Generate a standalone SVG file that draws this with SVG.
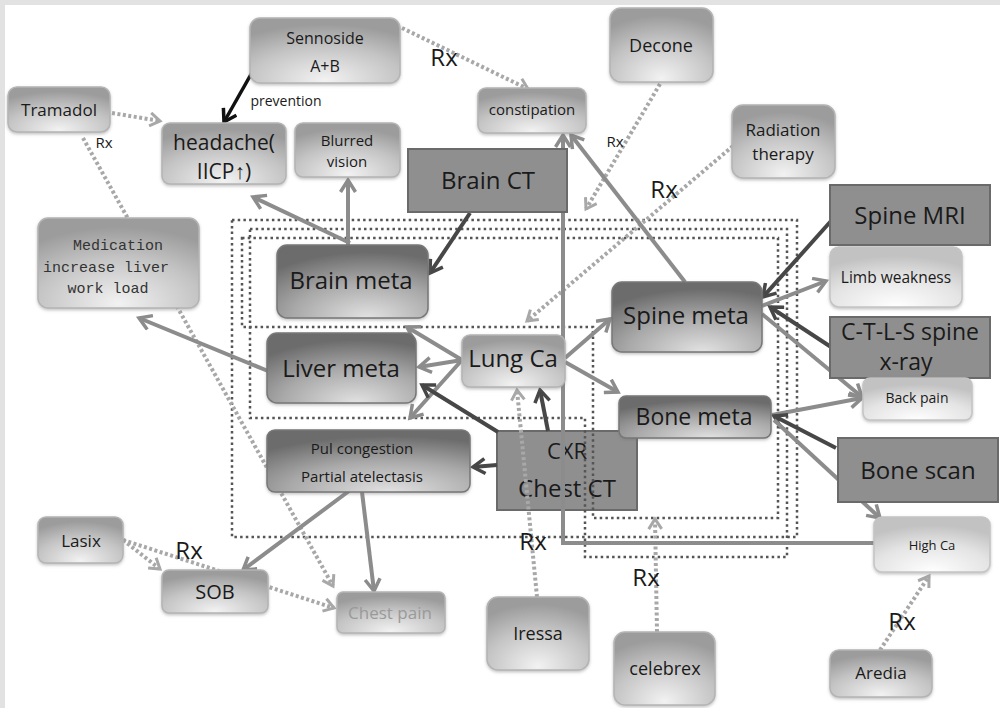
<svg xmlns="http://www.w3.org/2000/svg" width="1000" height="708" viewBox="0 0 1000 708">
<style>
text{font-family:"Open Sans","Liberation Sans",sans-serif;fill:#1a1a1a;text-anchor:middle}
.mono{font-family:"Liberation Mono","DejaVu Sans Mono",monospace;fill:#333}
.lt{fill:url(#gLight);stroke:#b4b4b4;stroke-width:1.5;filter:url(#sh)}
.lt2{fill:url(#gLight2);stroke:#c4c4c4;stroke-width:1.5;filter:url(#sh)}
.mt{fill:url(#gMeta);stroke:#777;stroke-width:1.5;filter:url(#sh)}
.ts{fill:#8f8f8f;stroke:#6a6a6a;stroke-width:2}
.reg{fill:none;stroke:#555;stroke-width:2.5;stroke-dasharray:2.5 3.2}
.dot{fill:none;stroke:#a8a8a8;stroke-width:4;stroke-dasharray:3 2.5;marker-end:url(#aDot)}
.gr{fill:none;stroke:#8c8c8c;stroke-width:4;marker-end:url(#aGray)}
.dk{fill:none;stroke:#474747;stroke-width:4;marker-end:url(#aDark)}
.bk{fill:none;stroke:#111;stroke-width:3.5;marker-end:url(#aBlack)}
.rx{font-size:24px}
</style>
<defs>
<radialGradient id="gLight" cx="50%" cy="95%" r="85%">
<stop offset="0" stop-color="#f2f2f2"/><stop offset="0.6" stop-color="#c4c4c4"/><stop offset="1" stop-color="#9c9c9c"/>
</radialGradient>
<radialGradient id="gLight2" cx="50%" cy="100%" r="85%">
<stop offset="0" stop-color="#ffffff"/><stop offset="0.6" stop-color="#e4e4e4"/><stop offset="1" stop-color="#c2c2c2"/>
</radialGradient>
<radialGradient id="gMeta" cx="60%" cy="100%" r="90%">
<stop offset="0" stop-color="#e2e2e2"/><stop offset="0.55" stop-color="#a9a9a9"/><stop offset="1" stop-color="#6c6c6c"/>
</radialGradient>
<filter id="sh" x="-10%" y="-10%" width="120%" height="130%">
<feDropShadow dx="0" dy="1.5" stdDeviation="1.5" flood-color="#777" flood-opacity="0.45"/>
</filter>
<marker id="aDot" markerUnits="userSpaceOnUse" markerWidth="16" markerHeight="16" refX="12" refY="8" orient="auto"><path d="M2,1.5 L12,8 L2,14.5" fill="none" stroke="#a8a8a8" stroke-width="3"/></marker>
<marker id="aGray" markerUnits="userSpaceOnUse" markerWidth="18" markerHeight="18" refX="14" refY="9" orient="auto"><path d="M2,1.5 L14,9 L2,16.5" fill="none" stroke="#8c8c8c" stroke-width="3.5"/></marker>
<marker id="aDark" markerUnits="userSpaceOnUse" markerWidth="18" markerHeight="18" refX="14" refY="9" orient="auto"><path d="M2,1.5 L14,9 L2,16.5" fill="none" stroke="#474747" stroke-width="3.5"/></marker>
<marker id="aBlack" markerUnits="userSpaceOnUse" markerWidth="18" markerHeight="18" refX="14" refY="9" orient="auto"><path d="M2,1.5 L14,9 L2,16.5" fill="none" stroke="#111" stroke-width="3.5"/></marker>
</defs>
<rect x="0" y="0" width="1000" height="708" fill="#e2e2e2"/>
<rect x="5" y="5" width="995" height="703" fill="#ffffff"/>

<g id="node-cxr"><rect class="ts" x="497" y="431" width="140" height="79"/><text x="567" y="459" font-size="22">CXR</text><text x="567" y="497" font-size="24">Chest CT</text></g>

<g id="regions">
<rect class="reg" x="232" y="220" width="565" height="317"/>
<path class="reg" d="M250,229 H787 V557 H585 V418 H250 Z"/>
<path class="reg" d="M242,238 H778 V518 H593 V327 H242 Z"/>
</g>

<g id="connectors">
<path class="bk" d="M258,62 L224,122"/>
<path class="dot" d="M402,28 L528,89"/>
<path class="dot" d="M112,113 L160,121"/>
<path class="dot" d="M83,138 L333,586"/>
<path class="dot" d="M660,84 L586,209"/>
<path class="dot" d="M733,146 L527,321"/>
<path class="dot" d="M537,597 L517,390"/>
<path class="dot" d="M123,540 L160,569"/>
<path class="dot" d="M123,540 L334,608"/>
<path class="dot" d="M657,632 L655,519"/>
<path class="dot" d="M880,650 L929,576"/>
<path class="dk" d="M470,213 L430,273"/>
<path class="gr" d="M350,243 L253,197"/>
<path class="gr" d="M348,245 L348,180"/>
<path class="gr" d="M268,371 L139,318"/>
<path class="gr" d="M462,360 L407,327"/>
<path class="gr" d="M462,360 L419,367"/>
<path class="gr" d="M462,360 L410,418"/>
<path class="dk" d="M498,432 L422,385"/>
<path class="dk" d="M548,431 L540,390"/>
<path class="gr" d="M565,358 L610,319"/>
<path class="gr" d="M565,362 L618,392"/>
<path class="dk" d="M497,465 L473,467"/>
<path class="gr" d="M349,491 L243,570"/>
<path class="gr" d="M362,492 L374,591"/>
<path class="gr" d="M685,282 L571,135"/>
<path class="gr" d="M874,543 H563 V135"/>
<path class="dk" d="M831,221 L763,297"/>
<path class="gr" d="M762,306 L826,281"/>
<path class="dk" d="M831,347 L770,307"/>
<path class="gr" d="M762,314 L862,397"/>
<path class="gr" d="M772,415 L862,398"/>
<path class="dk" d="M836,448 L774,416"/>
<path class="gr" d="M774,420 L880,518"/>
</g>

<g id="node-sennoside"><rect class="lt" x="250" y="18" width="150" height="65" rx="10"/><text x="325" y="44" font-size="16">Sennoside</text><text x="325" y="72" font-size="16">A+B</text></g>
<g id="label-prevention"><text x="286" y="106" font-size="14">prevention</text></g>
<g id="node-tramadol"><rect class="lt" x="8" y="87" width="102" height="45" rx="9"/><text x="59" y="116" font-size="17">Tramadol</text></g>
<g id="label-rx1"><text x="104" y="148" font-size="15">Rx</text></g>
<g id="node-headache"><rect class="lt" x="162" y="123" width="124" height="61" rx="8"/><text x="224" y="150" font-size="21">headache(</text><text x="224" y="179" font-size="21">IICP↑)</text></g>
<g id="node-blurred"><rect class="lt" x="295" y="123" width="105" height="54" rx="8"/><text x="347" y="146" font-size="15">Blurred</text><text x="347" y="167" font-size="15">vision</text></g>
<g id="label-rx2"><text class="rx" x="444" y="66">Rx</text></g>
<g id="node-constipation"><rect class="lt" x="478" y="88" width="108" height="45" rx="8"/><text x="532" y="115" font-size="15">constipation</text></g>
<g id="node-decone"><rect class="lt" x="610" y="8" width="103" height="74" rx="11"/><text x="661" y="52" font-size="18">Decone</text></g>
<g id="label-rx3"><text x="615" y="147" font-size="15">Rx</text></g>
<g id="node-radiation"><rect class="lt" x="732" y="105" width="103" height="73" rx="11"/><text x="783" y="136" font-size="17">Radiation</text><text x="783" y="160" font-size="17">therapy</text></g>
<g id="label-rx4"><text class="rx" x="664" y="198">Rx</text></g>
<g id="node-braint"><rect class="ts" x="408" y="149" width="159" height="63"/><text x="488" y="189" font-size="24">Brain CT</text></g>
<g id="node-medication"><rect class="lt" x="38" y="218" width="161" height="90" rx="10"/><text class="mono" x="118" y="250" font-size="15">Medication</text><text class="mono" x="106" y="272" font-size="15">increase liver</text><text class="mono" x="108" y="293" font-size="15">work load</text></g>
<g id="node-brainmeta"><rect class="mt" x="277" y="245" width="151" height="73" rx="10"/><text x="351" y="289" font-size="24">Brain meta</text></g>
<g id="node-livermeta"><rect class="mt" x="267" y="333" width="149" height="70" rx="10"/><text x="341" y="377" font-size="24">Liver meta</text></g>
<g id="node-lungca"><rect class="lt" x="462" y="335" width="103" height="52" rx="8"/><text x="513" y="367" font-size="24">Lung Ca</text></g>
<g id="node-spinemeta"><rect class="mt" x="612" y="282" width="150" height="70" rx="10"/><text x="686" y="324" font-size="24">Spine meta</text></g>
<g id="node-bonemeta"><rect class="mt" x="619" y="396" width="152" height="42" rx="7"/><text x="694" y="425" font-size="23">Bone meta</text></g>
<g id="node-pul"><rect class="mt" x="267" y="430" width="203" height="62" rx="8"/><text x="362" y="454" font-size="15">Pul congestion</text><text x="362" y="482" font-size="15">Partial atelectasis</text></g>
<g id="node-spinemri"><rect class="ts" x="830" y="185" width="160" height="60"/><text x="910" y="224" font-size="24">Spine MRI</text></g>
<g id="node-limb"><rect class="lt2" x="830" y="247" width="132" height="60" rx="9"/><text x="896" y="283" font-size="15.5">Limb weakness</text></g>
<g id="node-ctls"><rect class="ts" x="830" y="317" width="160" height="61"/><text x="910" y="340" font-size="23">C-T-L-S spine</text><text x="906" y="370" font-size="23">x-ray</text></g>
<g id="node-backpain"><rect class="lt2" x="863" y="378" width="109" height="42" rx="7"/><text x="917" y="403" font-size="14">Back pain</text></g>
<g id="node-bonescan"><rect class="ts" x="838" y="438" width="160" height="64"/><text x="918" y="479" font-size="24">Bone scan</text></g>
<g id="node-highca"><rect class="lt2" x="874" y="517" width="116" height="55" rx="8"/><text x="932" y="550" font-size="13">High Ca</text></g>
<g id="label-rx5"><text class="rx" x="902" y="630">Rx</text></g>
<g id="node-aredia"><rect class="lt" x="830" y="650" width="102" height="47" rx="9"/><text x="881" y="679" font-size="17">Aredia</text></g>
<g id="node-celebrex"><rect class="lt" x="614" y="632" width="101" height="73" rx="11"/><text x="665" y="675" font-size="18">celebrex</text></g>
<g id="label-rx6"><text class="rx" x="646" y="586">Rx</text></g>
<g id="node-iressa"><rect class="lt" x="487" y="597" width="102" height="73" rx="11"/><text x="538" y="640" font-size="18">Iressa</text></g>
<g id="label-rx7"><text class="rx" x="533" y="550">Rx</text></g>
<g id="node-chestpain"><rect class="lt" x="337" y="592" width="108" height="41" rx="6"/><text x="390" y="619" font-size="17" style="fill:#9a9a9a">Chest pain</text></g>
<g id="node-sob"><rect class="lt" x="162" y="570" width="106" height="43" rx="7"/><text x="215" y="599" font-size="20">SOB</text></g>
<g id="label-rx8"><text class="rx" x="189" y="559">Rx</text></g>
<g id="node-lasix"><rect class="lt" x="38" y="517" width="85" height="46" rx="8"/><text x="81" y="547" font-size="17">Lasix</text></g>
</svg>
